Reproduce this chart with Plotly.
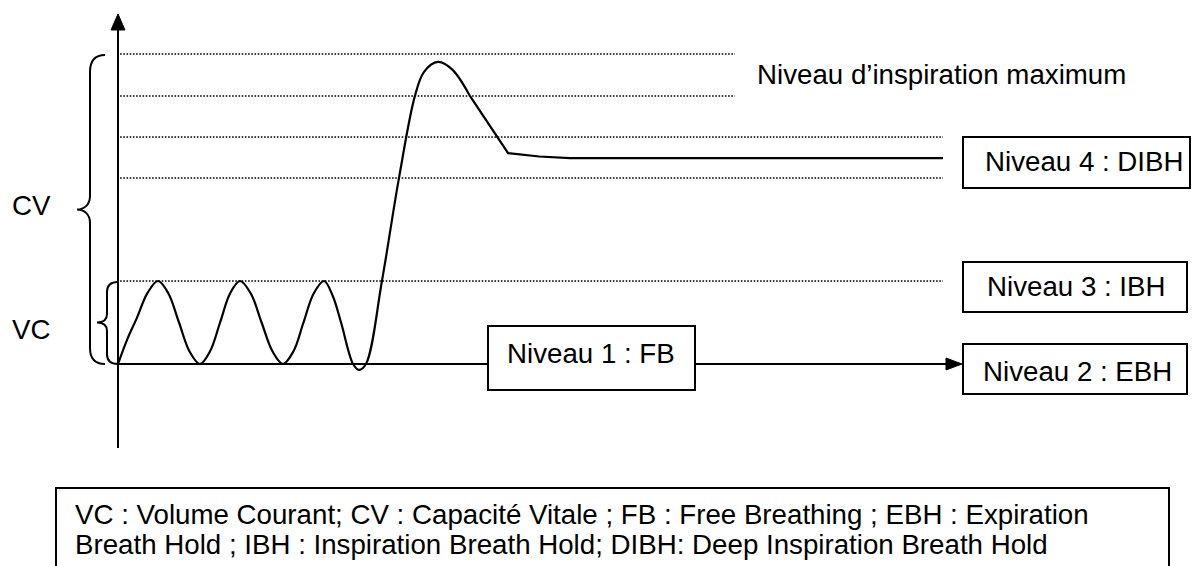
import plotly.graph_objects as go

# ---------------- data (time in s, volume in arbitrary units) ----------------
breath_t = [0.0, 0.45, 0.9, 1.43, 1.93, 2.43, 2.94, 3.45, 3.95, 4.43, 4.92,
            5.4, 5.88, 6.4, 6.92, 7.45, 7.95, 8.45, 8.94, 9.43, 9.93,
            10.35, 10.75, 11.33, 11.61, 11.95, 12.72, 13.54, 14.31, 14.75,
            15.42, 16.1, 16.96]
breath_v = [0.0, 0.3, 0.55, 0.86, 1.0, 0.85, 0.5, 0.15, 0.0, 0.15, 0.5,
            0.85, 1.0, 0.85, 0.5, 0.15, 0.0, 0.15, 0.5, 0.85, 1.0,
            0.82, 0.5, 0.0, -0.07, 0.0, 1.0, 2.24, 3.23, 3.52,
            3.64, 3.55, 3.23]

hold_t = [16.96, 18.31, 18.80, 20.30, 21.78, 39.76]
hold_v = [3.23, 2.73, 2.54, 2.50, 2.48, 2.48]

level_v = [1.0, 2.241, 2.735, 3.229, 3.735]
level_end_t = [39.76, 39.76, 39.76, 29.73, 29.73]
level_start_t = 0.1

box_labels = ["Niveau 4 : DIBH", "Niveau 3 : IBH", "Niveau 2 : EBH"]
center_label = "Niveau 1 : FB"
max_label = "Niveau d\u2019inspiration maximum"
brace_labels = ["CV", "VC"]
legend_lines = [
    "VC : Volume Courant; CV : Capacit\u00e9 Vitale ; FB : Free Breathing ; EBH : Expiration",
    "Breath Hold ; IBH : Inspiration Breath Hold; DIBH: Deep Inspiration Breath Hold",
]

# ---------------- layout geometry ----------------
W, H = 1194, 566
X0, Y0 = 118, 364          # pixel position of origin
PX_S, PX_V = 20.75, 83.0   # pixels per second / per volume unit
FONT = "Liberation Sans, Arial, Helvetica, sans-serif"
FS = 27.7


def px(x):
    return x / W


def py(y):
    return 1 - y / H


def path(points_cmds):
    out = []
    for cmd, pts in points_cmds:
        s = cmd + " " + " ".join(f"{px(x):.5f},{py(y):.5f}" for x, y in pts)
        out.append(s)
    return " ".join(out)


fig = go.Figure()

# dotted reference levels
for v, te in zip(level_v, level_end_t):
    fig.add_trace(go.Scatter(x=[level_start_t, te], y=[v, v], mode="lines",
                             line=dict(color="black", width=1.7, dash="1.6px,1.6px"),
                             hoverinfo="skip", showlegend=False))

# breathing curve
fig.add_trace(go.Scatter(x=breath_t, y=breath_v, mode="lines",
                         line=dict(color="black", width=2.2, shape="spline", smoothing=1.0),
                         hoverinfo="skip", showlegend=False))
fig.add_trace(go.Scatter(x=hold_t, y=hold_v, mode="lines",
                         line=dict(color="black", width=2.2),
                         hoverinfo="skip", showlegend=False))

shapes = []
LW = 2
# y axis
shapes.append(dict(type="line", xref="paper", yref="paper", x0=px(118), x1=px(118),
                   y0=py(448), y1=py(28), line=dict(color="black", width=LW)))
shapes.append(dict(type="path", xref="paper", yref="paper",
                   path=path([("M", [(118, 14)]), ("L", [(111, 30)]), ("L", [(125, 30)])]) + " Z",
                   fillcolor="black", line=dict(color="black", width=1)))
# x baseline with arrow
shapes.append(dict(type="line", xref="paper", yref="paper", x0=px(118), x1=px(948),
                   y0=py(364), y1=py(364), line=dict(color="black", width=LW)))
shapes.append(dict(type="path", xref="paper", yref="paper",
                   path=path([("M", [(962, 364)]), ("L", [(946, 358)]), ("L", [(946, 370)])]) + " Z",
                   fillcolor="black", line=dict(color="black", width=1)))

# braces
cv = path([
    ("M", [(105, 55)]),
    ("C", [(95, 55), (90, 60), (90, 72)]),
    ("L", [(90, 196)]),
    ("C", [(90, 205), (84, 209.5), (77, 209.5)]),
    ("C", [(84, 209.5), (90, 214), (90, 223)]),
    ("L", [(90, 348)]),
    ("C", [(90, 359), (95, 364), (105, 364)]),
])
vc = path([
    ("M", [(118, 282)]),
    ("C", [(111, 282), (107, 285), (107, 292)]),
    ("L", [(107, 314)]),
    ("C", [(107, 320), (103, 322.5), (97, 322.5)]),
    ("C", [(103, 322.5), (107, 325), (107, 331)]),
    ("L", [(107, 354)]),
    ("C", [(107, 361), (111, 364), (118, 364)]),
])
for p in (cv, vc):
    shapes.append(dict(type="path", xref="paper", yref="paper", path=p,
                       line=dict(color="black", width=LW)))

# boxes (pixel rectangles)
boxes = [(963, 137, 1190, 188), (963, 262, 1187, 312), (963, 344, 1187, 394),
         (488, 326, 695, 390), (56, 488, 1169, 600)]
for x0, y0, x1, y1 in boxes:
    shapes.append(dict(type="rect", xref="paper", yref="paper",
                       x0=px(x0), x1=px(x1), y0=py(y0), y1=py(y1),
                       fillcolor="white", line=dict(color="black", width=LW)))

annotations = []


def label(text, x, yc, size=FS):
    annotations.append(dict(text=text, xref="paper", yref="paper", x=px(x - 2), y=py(yc),
                            xanchor="left", yanchor="middle", showarrow=False,
                            font=dict(family=FONT, size=size, color="black")))


label(max_label, 757, 74.7)
label(box_labels[0], 985, 161.7)
label(box_labels[1], 987, 286.7)
label(box_labels[2], 983, 371.7)
label(center_label, 507, 353.7)
label(brace_labels[0], 12, 205)
label(brace_labels[1], 12, 329)
label(legend_lines[0], 75, 514.7)
label(legend_lines[1], 75, 544.7)

fig.update_layout(
    width=W, height=H, margin=dict(l=0, r=0, t=0, b=0),
    paper_bgcolor="white", plot_bgcolor="white",
    xaxis=dict(range=[-X0 / PX_S, (W - X0) / PX_S], visible=False, fixedrange=True),
    yaxis=dict(range=[-(H - Y0) / PX_V, Y0 / PX_V], visible=False, fixedrange=True),
    shapes=shapes, annotations=annotations, showlegend=False,
)
fig.write_html("out.html", config={"displayModeBar": False},
               post_script="document.body.style.margin='0';document.body.style.overflow='hidden';")
